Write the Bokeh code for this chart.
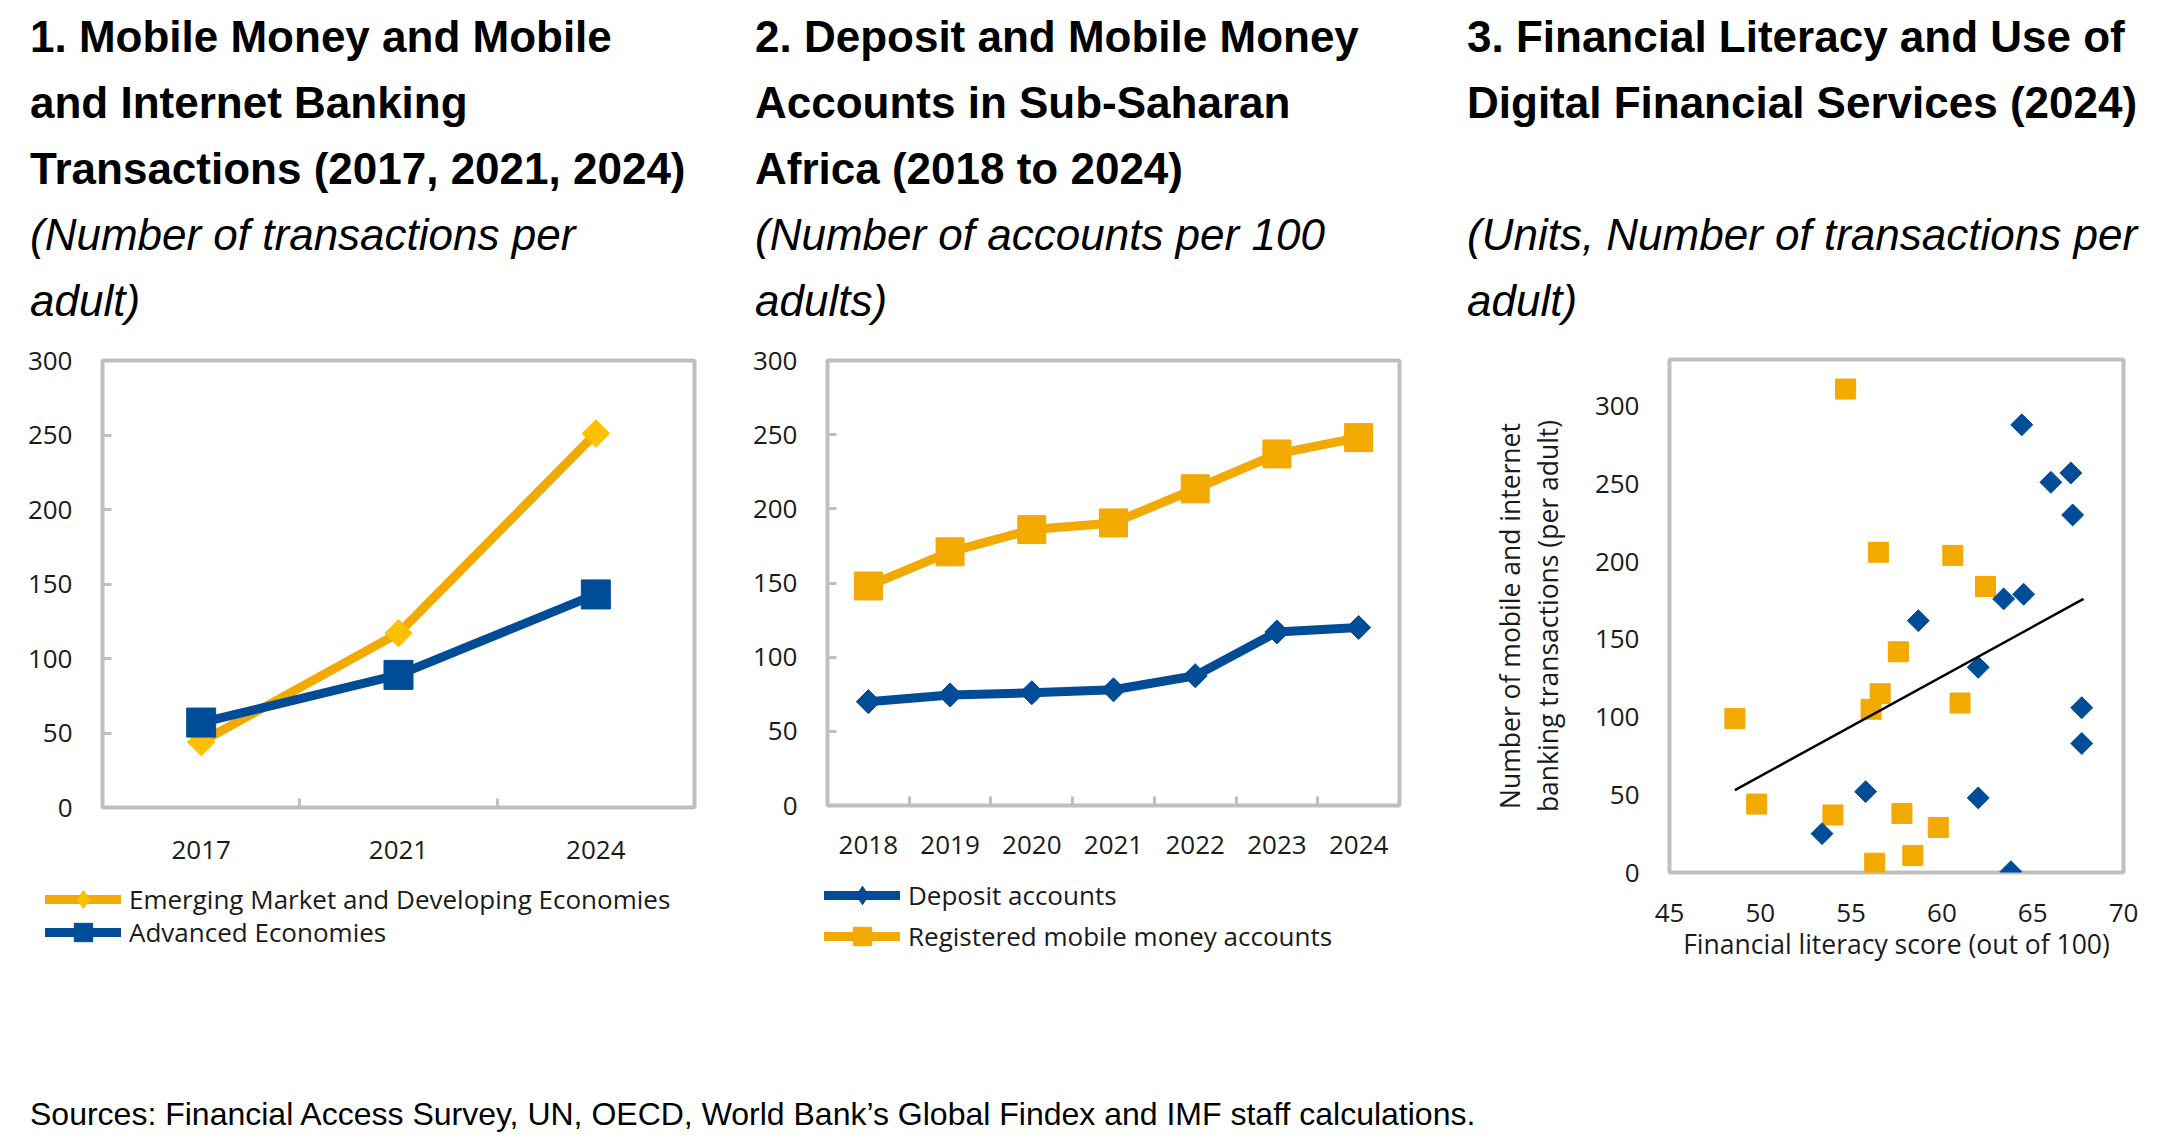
import math

from bokeh.plotting import figure
from bokeh.models import Div, Legend, LegendItem, FixedTicker, Range1d
from bokeh.layouts import row, column
from bokeh.embed import file_html
from bokeh.resources import INLINE

# --- data ------------------------------------------------------------------
# 1. Mobile money and mobile/internet banking transactions per adult
p1_years = ["2017", "2021", "2024"]
p1_emde = [44, 117, 251]
p1_ae = [57, 89, 143]
p1_yticks = [0, 50, 100, 150, 200, 250, 300]

# 2. Deposit and mobile money accounts in SSA, per 100 adults
p2_years = ["2018", "2019", "2020", "2021", "2022", "2023", "2024"]
p2_deposit = [70, 74.5, 76, 78, 87.5, 117, 120]
p2_mobile = [148, 171, 186, 190.5, 213.5, 237, 248]
p2_yticks = [0, 50, 100, 150, 200, 250, 300]

# 3. Financial literacy vs digital transactions (2024)
p3_blue_x = [64.4, 66.0, 67.1, 67.2, 63.4, 64.5, 58.7, 62.0, 67.7, 67.7, 55.8, 62.0, 53.4, 63.8]
p3_blue_y = [288, 251, 257, 230, 176, 179, 162, 132, 106, 83, 52, 48, 25, 0.5]
p3_orange_x = [54.7, 56.5, 60.6, 62.4, 57.6, 56.6, 56.1, 61.0, 48.6, 49.8, 54.0, 57.8, 59.8, 58.4, 56.3]
p3_orange_y = [311, 206, 204, 184, 142, 115, 105, 109, 99, 44, 37, 38, 29, 11, 6]
p3_trend_x = [48.6, 67.8]
p3_trend_y = [53, 176]
p3_xticks = [45, 50, 55, 60, 65, 70]
p3_yticks = [0, 50, 100, 150, 200, 250, 300]

sources = "Sources: Financial Access Survey, UN, OECD, World Bank\u2019s Global Findex and IMF staff calculations."

BLUE = "#004C97"
ORANGE = "#F2A900"
YELLOW = "#FFC000"
GRAY = "#BFBFBF"
INK = "#1a1a1a"
FONT = "Open Sans"
TICK = "26px"
TITLE_FONT = "'Liberation Sans', Arial, sans-serif"


def base_fig(width, height, left, right, top, bottom, x_range, y_range):
    p = figure(width=width, height=height, x_range=x_range, y_range=y_range,
               output_backend="svg", toolbar_location=None, frame_align=False,
               min_border_left=left, min_border_right=right,
               min_border_top=top, min_border_bottom=bottom)
    p.xgrid.visible = False
    p.ygrid.visible = False
    p.outline_line_color = GRAY
    p.outline_line_width = 4
    p.outline_line_alpha = 1
    for ax in (p.xaxis[0], p.yaxis[0]):
        ax.axis_line_color = None
        ax.major_tick_line_color = GRAY
        ax.major_tick_line_width = 3
        ax.major_tick_out = 0
        ax.major_tick_in = 0
        ax.minor_tick_line_color = None
        ax.major_label_text_font = FONT
        ax.major_label_text_font_size = TICK
        ax.major_label_text_color = INK
        ax.axis_label_text_font = FONT
        ax.axis_label_text_font_size = "26.5px"
        ax.axis_label_text_font_style = "normal"
        ax.axis_label_text_color = INK
    p.yaxis[0].major_label_standoff = 30
    return p


def category_axis(p, labels, standoff):
    centers = [i + 0.5 for i in range(len(labels))]
    bounds = [i for i in range(1, len(labels))]
    ax = p.xaxis[0]
    ax.ticker = FixedTicker(ticks=centers, minor_ticks=bounds)
    ax.major_label_overrides = {c: lab for c, lab in zip(centers, labels)}
    ax.minor_tick_line_color = GRAY
    ax.minor_tick_line_width = 3
    ax.minor_tick_in = 9
    ax.minor_tick_out = 0
    ax.major_label_standoff = standoff
    return centers


def legend_fig(width, height, entries):
    # legend sits in its own figure so that it can reach left of the plot frame
    f = figure(width=width, height=height, x_range=Range1d(0, 1), y_range=Range1d(0, 1),
               output_backend="svg", toolbar_location=None, frame_align=False,
               x_axis_location=None, y_axis_location=None,
               min_border_left=0, min_border_right=0, min_border_top=0, min_border_bottom=0)
    f.grid.visible = False
    f.outline_line_color = None
    for label, xs, ys, lcolor, marker, mcolor, loc in entries:
        rl = f.line(xs, ys, line_color=lcolor, line_width=9, line_cap="round", visible=False)
        rm = f.scatter(xs, ys, marker=marker, fill_color=mcolor, line_color=mcolor, visible=False)
        f.add_layout(Legend(items=[LegendItem(label=label, renderers=[rl, rm])],
                            location=loc, glyph_width=76, glyph_height=46, label_height=46,
                            label_standoff=8, spacing=0, padding=0, margin=0,
                            border_line_color=None, background_fill_alpha=0,
                            label_text_font=FONT, label_text_font_size=TICK,
                            label_text_color=INK), "center")
    return f


def title_div(width, pad, bold_lines, italic_lines):
    html = (f"<div style=\"padding-left:{pad}px; margin-top:4px; font-family:{TITLE_FONT};"
            f" font-size:44px; line-height:66px; white-space:nowrap; color:#000\">"
            "<b>" + "<br>".join(bold_lines) + "</b><br><i>" + "<br>".join(italic_lines) + "</i></div>")
    return Div(text=html, width=width, height=330, margin=0)


# --- panel 1 ---------------------------------------------------------------
p1 = base_fig(735, 545, 102, 41, 30, 68, Range1d(0, 3), Range1d(0, 300))
x1 = category_axis(p1, p1_years, 33)
p1.yaxis[0].ticker = FixedTicker(ticks=p1_yticks)
p1.yaxis[0].major_tick_in = 9

p1.line(x1, p1_emde, line_color=ORANGE, line_width=9, line_cap="round")
p1.scatter(x1, p1_emde, marker="square", angle=math.pi / 4, size=19.5,
           fill_color=YELLOW, line_color=YELLOW)
p1.line(x1, p1_ae, line_color=BLUE, line_width=9, line_cap="round")
p1.scatter(x1, p1_ae, marker="square", size=29, fill_color=BLUE, line_color=BLUE)

leg1 = legend_fig(735, 90, [
    ("Emerging Market and Developing Economies", x1, p1_emde, ORANGE, "diamond", YELLOW, (45, 43)),
    ("Advanced Economies", x1, p1_ae, BLUE, "square", BLUE, (45, 10)),
])

# --- panel 2 ---------------------------------------------------------------
p2 = base_fig(705, 545, 92, 41, 30, 70, Range1d(0, 7), Range1d(0, 300))
x2 = category_axis(p2, p2_years, 30)
p2.yaxis[0].ticker = FixedTicker(ticks=p2_yticks)
p2.yaxis[0].major_tick_in = 9

p2.line(x2, p2_deposit, line_color=BLUE, line_width=9, line_cap="round")
p2.scatter(x2, p2_deposit, marker="square", angle=math.pi / 4, size=17,
           fill_color=BLUE, line_color=BLUE)
p2.line(x2, p2_mobile, line_color=ORANGE, line_width=9, line_cap="round")
p2.scatter(x2, p2_mobile, marker="square", size=28, fill_color=ORANGE, line_color=ORANGE)

leg2 = legend_fig(705, 90, [
    ("Deposit accounts", x2, p2_deposit, BLUE, "diamond", BLUE, (89, 47)),
    ("Registered mobile money accounts", x2, p2_mobile, ORANGE, "square", ORANGE, (89, 6)),
])

# --- panel 3 ---------------------------------------------------------------
p3 = base_fig(717, 642, 229, 34, 29, 100, Range1d(45, 70), Range1d(0, 330))
p3.xaxis[0].ticker = FixedTicker(ticks=p3_xticks)
p3.yaxis[0].ticker = FixedTicker(ticks=p3_yticks)
p3.xaxis[0].major_label_standoff = 31
p3.xaxis[0].axis_label = "Financial literacy score (out of 100)"
p3.xaxis[0].axis_label_standoff = 1
p3.yaxis[0].axis_label = "Number of mobile and internet\nbanking transactions (per adult)"
p3.yaxis[0].axis_label_standoff = 26
p3.yaxis[0].axis_label_text_line_height = 1.05

p3.scatter(p3_orange_x, p3_orange_y, marker="square", size=20,
           fill_color=ORANGE, line_color=ORANGE)
p3.scatter(p3_blue_x, p3_blue_y, marker="square", angle=math.pi / 4, size=15.5,
           fill_color=BLUE, line_color=BLUE)
p3.line(p3_trend_x, p3_trend_y, line_color="black", line_width=2.5)

# --- titles & layout ---------------------------------------------------------
t1 = title_div(735, 30, ["1. Mobile Money and Mobile", "and Internet Banking",
                         "Transactions (2017, 2021, 2024)"],
               ["(Number of transactions per", "adult)"])
t2 = title_div(705, 20, ["2. Deposit and Mobile Money", "Accounts in Sub-Saharan",
                         "Africa (2018 to 2024)"],
               ["(Number of accounts per 100", "adults)"])
t3 = title_div(717, 27, ["3. Financial Literacy and Use of",
                         "Digital Financial Services (2024)", ""],
               ["(Units, Number of transactions per", "adult)"])

src = Div(text=(f"<div style=\"padding-left:30px; padding-top:122px; font-family:{TITLE_FONT};"
                f" font-size:32px; line-height:40px; white-space:nowrap; color:#000\">{sources}</div>"),
          width=2157, height=172, margin=0)

layout = column(
    row(column(t1, p1, leg1, spacing=0),
        column(t2, p2, leg2, spacing=0),
        column(t3, p3, spacing=0), spacing=0),
    src, spacing=0)

open("out.html", "w").write(file_html(layout, INLINE))
